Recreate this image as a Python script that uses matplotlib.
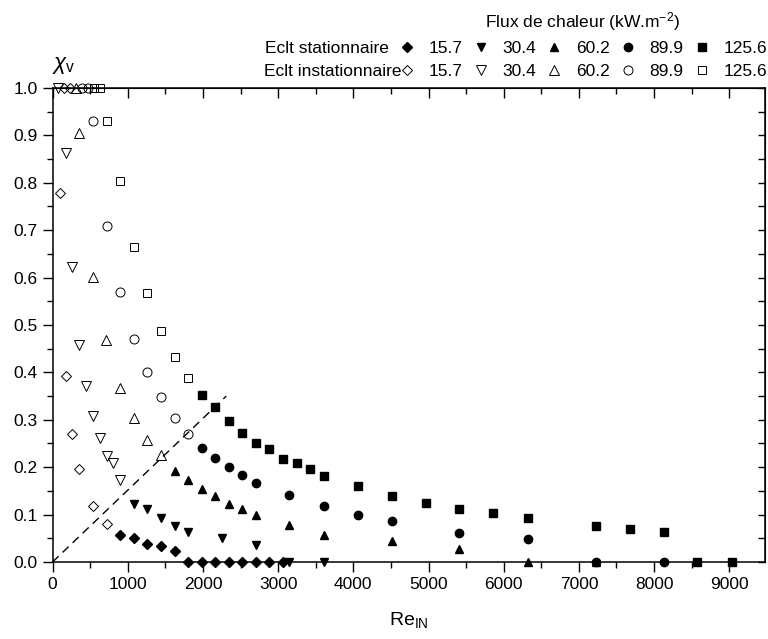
import matplotlib
matplotlib.use("Agg")
import matplotlib.pyplot as plt
from matplotlib.ticker import MultipleLocator, FormatStrFormatter

plt.rcParams['font.family'] = ['Liberation Sans', 'DejaVu Sans']
plt.rcParams['mathtext.fontset'] = 'custom'
plt.rcParams['mathtext.rm'] = 'Liberation Sans'
plt.rcParams['mathtext.it'] = 'Liberation Sans:italic'

# Eclt stationnaire (filled markers)
re_s157 = [898, 1084, 1261, 1442, 1624, 1805, 1987, 2164, 2345, 2522, 2704, 2881, 3062]
xv_s157 = [0.056, 0.051, 0.037, 0.034, 0.023, 0, 0, 0, 0, 0, 0, 0, 0]
re_s304 = [1084, 1261, 1442, 1624, 1805, 2252, 2704, 3150, 3610]
xv_s304 = [0.123, 0.111, 0.093, 0.077, 0.063, 0.051, 0.035, 0, 0]
re_s602 = [1624, 1805, 1987, 2164, 2345, 2522, 2704, 3150, 3610, 4514, 5410, 6319, 7223]
xv_s602 = [0.192, 0.173, 0.153, 0.139, 0.122, 0.111, 0.099, 0.079, 0.058, 0.044, 0.028, 0, 0]
re_s899 = [1987, 2164, 2345, 2522, 2704, 3150, 3610, 4058, 4514, 5410, 6319, 7223, 8128]
xv_s899 = [0.241, 0.220, 0.200, 0.184, 0.167, 0.141, 0.118, 0.100, 0.086, 0.062, 0.049, 0, 0]
re_s1256 = [1987, 2164, 2345, 2522, 2704, 2881, 3062, 3247, 3424, 3610, 4058, 4514,
            4963, 5410, 5862, 6319, 7223, 7675, 8128, 8575, 9032]
xv_s1256 = [0.353, 0.326, 0.298, 0.273, 0.250, 0.239, 0.218, 0.208, 0.196, 0.181, 0.161, 0.140,
            0.125, 0.112, 0.103, 0.093, 0.077, 0.070, 0.063, 0, 0]

# Eclt instationnaire (open markers)
re_i157 = [93, 150, 230, 181, 265, 358, 535, 721]
xv_i157 = [0.778, 1.0, 1.0, 0.392, 0.270, 0.196, 0.118, 0.080]
re_i304 = [70, 181, 265, 358, 447, 535, 633, 721, 810, 898]
xv_i304 = [1.0, 0.863, 0.623, 0.458, 0.371, 0.308, 0.261, 0.224, 0.209, 0.173]
re_i602 = [310, 358, 535, 712, 898, 1084, 1261, 1442]
xv_i602 = [1.0, 0.906, 0.602, 0.468, 0.367, 0.303, 0.257, 0.225]
re_i899 = [390, 470, 535, 721, 898, 1084, 1261, 1442, 1624, 1805]
xv_i899 = [1.0, 1.0, 0.931, 0.708, 0.570, 0.470, 0.401, 0.349, 0.304, 0.271]
re_i1256 = [550, 630, 721, 898, 1084, 1261, 1442, 1624, 1805]
xv_i1256 = [1.0, 1.0, 0.931, 0.804, 0.665, 0.568, 0.487, 0.432, 0.389]

# dashed boundary line
line_re = [0, 2310]
line_xv = [0, 0.35]

flux = ['15.7', '30.4', '60.2', '89.9', '125.6']
marks = ['D', 'v', '^', 'o', 's']
sizes = [5, 6, 6, 6, 5.5]

fig = plt.figure(figsize=(7.68, 6.39), dpi=100)
ax = fig.add_axes([0.0684, 0.1205, 0.9277, 0.7418])

stat = [(re_s157, xv_s157), (re_s304, xv_s304), (re_s602, xv_s602),
        (re_s899, xv_s899), (re_s1256, xv_s1256)]
inst = [(re_i157, xv_i157), (re_i304, xv_i304), (re_i602, xv_i602),
        (re_i899, xv_i899), (re_i1256, xv_i1256)]

handles = []
for k in range(5):
    h1, = ax.plot(stat[k][0], stat[k][1], ls='none', marker=marks[k], ms=sizes[k],
                  mfc='black', mec='black', clip_on=False, zorder=3)
    h2, = ax.plot(inst[k][0], inst[k][1], ls='none', marker=marks[k], ms=sizes[k] + 0.5,
                  mfc='none', mec='black', mew=0.7, clip_on=False, zorder=3)
    handles += [h1, h2]

ax.plot(line_re, line_xv, color='black', lw=1, dashes=(6, 4))

ax.set_xlim(0, 9475)
ax.set_ylim(0, 1.0)
ax.xaxis.set_major_locator(MultipleLocator(1000))
ax.xaxis.set_minor_locator(MultipleLocator(500))
ax.yaxis.set_major_locator(MultipleLocator(0.1))
ax.yaxis.set_minor_locator(MultipleLocator(0.05))
ax.yaxis.set_major_formatter(FormatStrFormatter('%.1f'))
ax.tick_params(which='both', direction='out', labelsize=12.5, width=1)
ax.tick_params(which='major', length=7)
ax.tick_params(which='minor', length=4)
for sp in ax.spines.values():
    sp.set_linewidth(1.1)

# inward ticks on top and right sides
top = ax.secondary_xaxis('top')
top.xaxis.set_major_locator(MultipleLocator(1000))
top.xaxis.set_minor_locator(MultipleLocator(500))
top.tick_params(which='both', direction='in', labeltop=False, width=1)
top.tick_params(which='major', length=7)
top.tick_params(which='minor', length=4)
right = ax.secondary_yaxis('right')
right.yaxis.set_major_locator(MultipleLocator(0.1))
right.yaxis.set_minor_locator(MultipleLocator(0.05))
right.tick_params(which='both', direction='in', labelright=False, width=1, length=5)

ax.set_xlabel('Re$_{\\mathregular{IN}}$', fontsize=14, labelpad=13)
fig.text(0.068, 0.897, '$\\chi_{\\mathregular{v}}$', fontsize=16, ha='left', va='center')

labels = []
for f in flux:
    labels += [f, f]
leg = fig.legend(handles, labels, ncol=5, loc='upper right', bbox_to_anchor=(0.999, 0.984),
                 frameon=False, fontsize=12.5,
                 title='Flux de chaleur (kW.m$^{\\mathregular{-2}}$)', title_fontsize=12.5,
                 handletextpad=0.75, columnspacing=0.55, handlelength=1.0,
                 labelspacing=0.45, borderpad=0, borderaxespad=0)

# row labels placed left of the legend rows
fig.canvas.draw()
rend = fig.canvas.get_renderer()
inv = fig.transFigure.inverted()
txts = leg.get_texts()
for t, name, gap in zip(txts[:2], ['Eclt stationnaire', 'Eclt instationnaire'], [40, 27]):
    bb = t.get_window_extent(rend)
    xr, yc = inv.transform((bb.x0 - gap, (bb.y0 + bb.y1) / 2))
    fig.text(xr, yc, name, fontsize=12.5, ha='right', va='center')

fig.savefig('out.png', dpi=100)
